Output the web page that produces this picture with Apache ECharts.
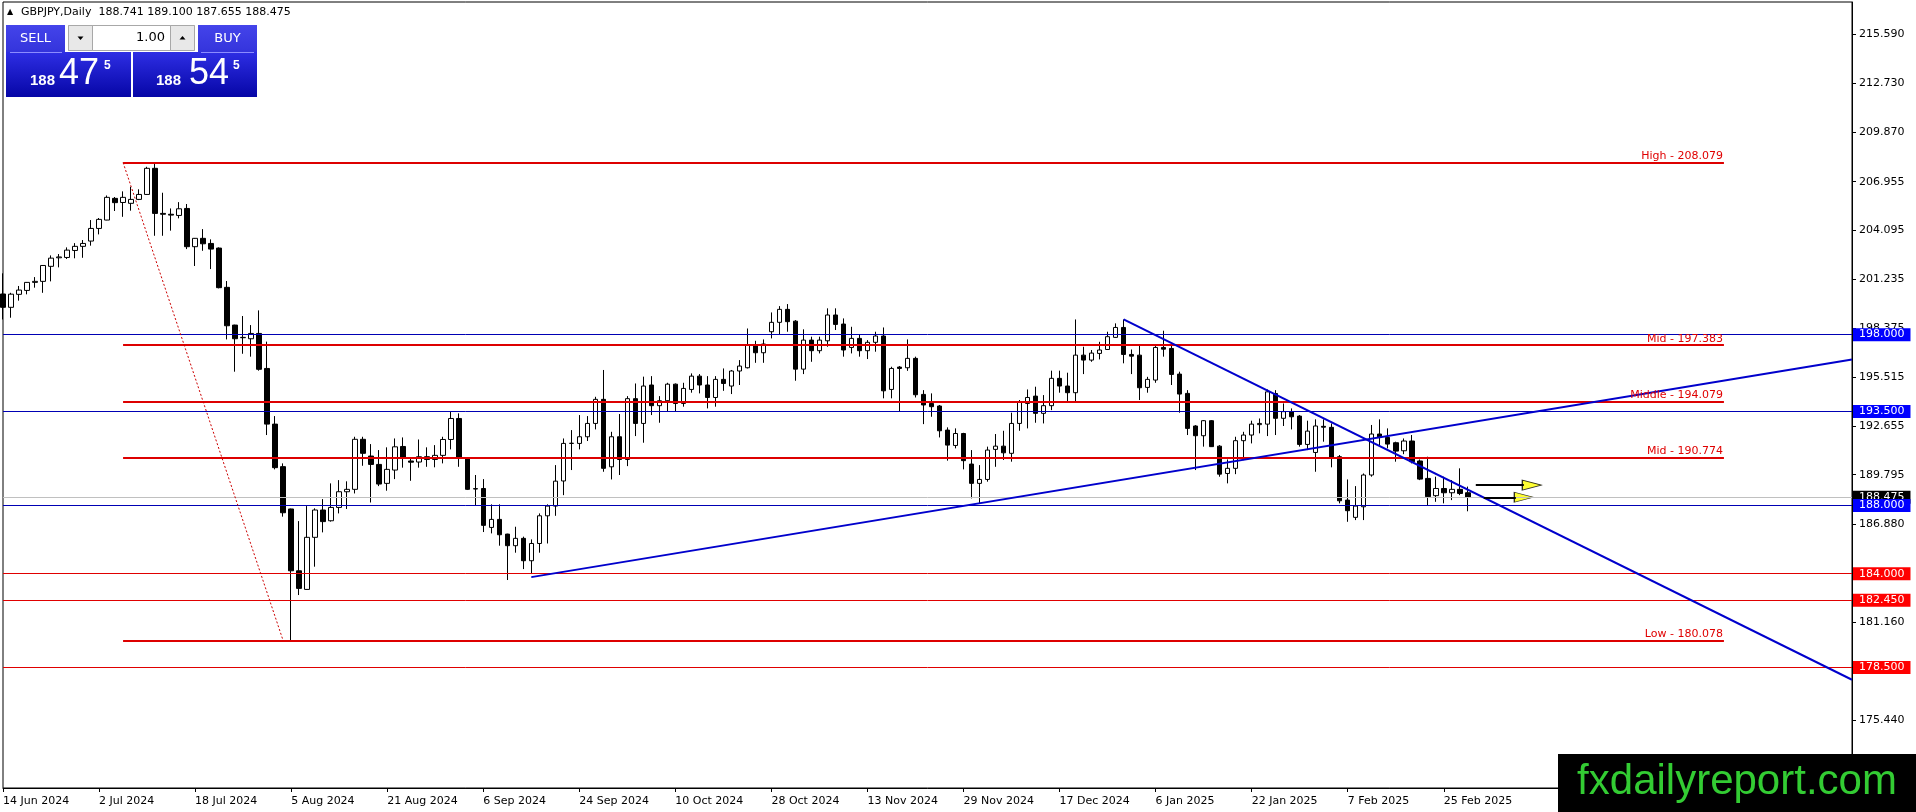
<!DOCTYPE html>
<html>
<head>
<meta charset="utf-8">
<title>GBPJPY, Daily</title>
<script src="https://cdn.jsdelivr.net/npm/echarts@6/dist/echarts.min.js"></script>
<style>
  html, body { margin: 0; padding: 0; background: #fff; }
  #chart { width: 1916px; height: 812px; }
</style>
</head>
<body>
<div id="chart"></div>
<script>
// daily bars, 14 Jun 2024 .. 28 Feb 2025 (weekdays, no 25 Dec / 1 Jan)
const startDate = '2024-06-14';
const holidays = ['2024-12-25', '2025-01-01'];
const futureSlots = 48;

const opens = [
  200.38, 199.60, 200.36, 200.59, 201.06, 201.12, 202.00, 202.50, 202.52, 202.93,
  203.17, 203.48, 204.22, 204.71, 205.98, 205.74, 205.69, 205.92, 206.21, 207.74,
  205.10, 205.05, 204.98, 205.39, 203.15, 203.64, 203.34, 203.07, 200.77, 198.56,
  197.82, 197.76, 198.07, 196.02, 192.76, 190.27, 187.79, 184.17, 183.08, 186.13,
  187.73, 187.10, 187.88, 188.80, 188.94, 191.87, 190.89, 190.40, 189.29, 190.07,
  191.45, 190.60, 190.54, 190.85, 190.69, 190.93, 191.86, 193.09, 190.75, 188.98,
  188.99, 186.71, 187.18, 186.32, 185.64, 186.07, 184.76, 185.77, 187.39, 187.96,
  189.43, 191.63, 191.63, 192.02, 192.80, 194.21, 190.26, 192.02, 190.69, 194.25,
  192.80, 195.05, 193.84, 194.13, 195.10, 193.97, 194.79, 195.57, 195.05, 194.32,
  195.38, 194.99, 195.87, 196.06, 197.39, 196.94, 198.17, 198.72, 199.48, 198.79,
  195.98, 197.68, 197.06, 197.64, 199.15, 198.62, 197.25, 197.78, 197.06, 197.55,
  197.92, 194.79, 196.10, 196.06, 196.61, 194.50, 193.97, 193.82, 192.41, 191.51,
  192.21, 190.42, 189.29, 189.52, 191.28, 191.47, 191.05, 192.80, 193.97, 194.40,
  193.39, 193.84, 195.44, 194.99, 194.60, 196.80, 196.51, 196.90, 197.13, 197.84,
  198.42, 196.84, 196.80, 194.91, 195.34, 197.25, 197.19, 195.69, 194.56, 192.65,
  192.08, 192.96, 191.47, 189.87, 190.17, 191.79, 192.12, 192.73, 192.76, 194.55,
  193.10, 193.49, 193.23, 191.57, 191.10, 192.63, 192.57, 190.85, 188.31, 187.30,
  187.92, 189.78, 192.18, 191.98, 191.67, 191.20, 191.77, 190.60, 189.58, 188.57,
  188.99, 188.74, 188.94, 188.741
];
const highs = [
  201.59, 200.45, 200.85, 201.08, 201.37, 202.07, 202.64, 202.72, 203.11, 203.36,
  203.54, 204.71, 204.83, 206.15, 206.06, 206.39, 206.66, 206.51, 207.83, 208.079,
  206.31, 205.39, 205.76, 205.65, 203.66, 204.18, 203.58, 203.11, 201.14, 198.58,
  199.09, 198.56, 199.42, 197.59, 193.23, 190.46, 187.81, 187.08, 187.96, 187.83,
  188.37, 189.29, 189.48, 189.41, 192.02, 192.02, 191.59, 191.24, 191.40, 191.92,
  191.98, 190.75, 191.86, 191.40, 191.53, 192.02, 193.48, 193.39, 190.77, 189.78,
  189.54, 188.06, 188.06, 186.34, 186.75, 186.17, 186.01, 187.53, 188.06, 190.36,
  191.92, 192.41, 193.29, 193.23, 194.36, 195.93, 192.31, 193.35, 194.40, 195.14,
  195.54, 195.57, 194.40, 195.18, 195.14, 195.18, 195.73, 195.69, 195.57, 195.57,
  196.02, 195.93, 196.51, 198.36, 197.64, 197.72, 199.30, 199.67, 199.79, 198.85,
  198.31, 197.88, 197.88, 199.54, 199.54, 198.95, 198.46, 198.03, 197.68, 198.17,
  198.42, 196.12, 196.16, 197.72, 196.71, 194.75, 194.56, 193.88, 192.57, 192.51,
  192.25, 191.24, 190.36, 191.44, 192.18, 192.37, 193.43, 194.17, 194.79, 194.95,
  194.46, 195.89, 195.89, 195.77, 198.89, 197.29, 197.10, 197.58, 198.17, 198.66,
  198.89, 197.13, 197.39, 195.53, 197.33, 198.23, 197.45, 195.83, 194.75, 192.70,
  193.00, 193.00, 191.53, 190.69, 192.02, 192.31, 192.96, 193.09, 194.79, 194.75,
  193.97, 193.68, 193.29, 192.96, 193.04, 193.04, 192.80, 190.95, 189.52, 189.13,
  189.87, 192.71, 193.04, 192.51, 191.73, 191.92, 192.12, 190.69, 190.85, 189.68,
  189.68, 189.48, 190.17, 189.100
];
const lows = [
  198.89, 198.99, 199.99, 200.36, 200.75, 200.45, 201.12, 201.94, 202.43, 202.47,
  202.50, 203.21, 203.87, 204.70, 205.24, 204.90, 205.26, 205.88, 206.19, 203.79,
  203.79, 204.09, 204.81, 203.01, 202.02, 202.91, 201.84, 200.71, 197.72, 195.83,
  196.88, 196.71, 195.89, 192.12, 190.11, 187.34, 180.078, 182.75, 183.06, 184.41,
  186.42, 187.05, 187.53, 187.79, 188.70, 190.32, 188.17, 189.13, 188.86, 189.54,
  190.21, 189.44, 190.21, 190.26, 190.23, 190.46, 191.28, 190.26, 188.90, 188.02,
  186.44, 186.36, 185.64, 183.63, 185.23, 184.27, 183.98, 185.23, 185.77, 187.39,
  188.60, 190.07, 191.28, 191.77, 192.45, 189.97, 189.52, 189.78, 190.30, 192.06,
  191.67, 193.29, 192.84, 193.49, 193.49, 193.78, 194.60, 194.56, 193.68, 193.78,
  194.71, 194.52, 195.05, 196.02, 196.35, 196.35, 197.78, 198.03, 198.17, 195.30,
  195.69, 196.41, 196.90, 197.29, 198.27, 196.71, 196.90, 196.71, 196.57, 197.00,
  194.27, 194.27, 193.52, 195.88, 194.32, 192.76, 193.19, 191.98, 190.62, 191.34,
  190.11, 188.41, 188.08, 189.39, 190.26, 190.66, 190.56, 192.37, 192.51, 192.84,
  192.80, 193.58, 194.60, 194.01, 194.01, 195.69, 196.41, 196.55, 197.10, 197.82,
  196.32, 195.69, 194.17, 194.60, 195.18, 196.71, 195.05, 193.43, 192.12, 190.07,
  191.44, 191.42, 189.68, 189.29, 189.83, 190.65, 191.63, 192.22, 192.06, 192.12,
  192.65, 192.45, 191.44, 191.24, 189.97, 191.73, 190.23, 188.12, 187.04, 187.14,
  187.14, 189.68, 191.44, 191.34, 190.56, 191.00, 190.46, 189.48, 188.02, 188.21,
  188.12, 188.31, 188.60, 187.655
];
const closes = [
  199.60, 200.37, 200.61, 201.06, 201.12, 202.05, 202.48, 202.55, 202.95, 203.17,
  203.34, 204.22, 204.75, 206.04, 205.73, 206.04, 205.92, 206.21, 207.74, 205.10,
  205.05, 205.00, 205.37, 203.15, 203.64, 203.32, 203.01, 200.75, 198.52, 197.76,
  197.84, 198.07, 195.97, 192.76, 190.21, 187.57, 184.17, 183.14, 186.13, 187.73,
  187.05, 187.88, 188.80, 188.94, 191.87, 191.05, 190.40, 189.25, 190.11, 191.43,
  190.75, 190.53, 190.85, 190.69, 190.93, 191.86, 193.09, 190.75, 188.94, 188.96,
  186.83, 187.18, 186.28, 185.64, 186.07, 184.76, 185.77, 187.39, 187.96, 189.42,
  191.63, 191.64, 192.02, 192.80, 194.21, 190.17, 192.02, 190.69, 194.25, 192.80,
  194.99, 193.84, 194.13, 195.10, 193.97, 194.85, 195.57, 195.05, 194.32, 195.38,
  195.14, 195.87, 196.16, 197.39, 196.94, 197.45, 198.72, 199.48, 198.76, 195.98,
  197.68, 197.06, 197.68, 199.15, 198.60, 197.10, 197.78, 197.06, 197.55, 197.92,
  194.71, 196.02, 196.02, 196.61, 194.48, 193.88, 193.78, 192.37, 191.53, 192.21,
  190.62, 189.29, 189.52, 191.24, 191.47, 191.08, 192.80, 194.03, 194.32, 193.39,
  193.84, 195.44, 194.99, 194.60, 196.80, 196.51, 196.92, 197.10, 197.88, 198.42,
  196.84, 196.74, 194.89, 195.38, 197.25, 197.15, 195.67, 194.52, 192.51, 192.08,
  192.96, 191.44, 189.83, 190.17, 191.79, 192.12, 192.76, 192.80, 194.65, 193.10,
  193.49, 193.19, 191.57, 192.35, 192.65, 192.58, 190.81, 188.27, 187.69, 187.96,
  189.78, 192.18, 191.98, 191.59, 191.18, 191.77, 190.56, 189.54, 188.51, 188.99,
  188.74, 188.94, 188.70, 188.475
];

// price scale
const priceTicks = [175.440, 178.300, 181.160, 184.020, 186.880, 189.795, 192.655,
  195.515, 198.375, 201.235, 204.095, 206.955, 209.870, 212.730, 215.590];
const priceLabels = [175.440, 181.160, 186.880, 189.795, 192.655,
  195.515, 198.375, 201.235, 204.095, 206.955, 209.870, 212.730, 215.590];

// drawn objects
const blueLevels = [198.000, 193.500, 188.000];
const redLevels = [184.000, 182.450, 178.500];
const lastPrice = 188.475;
const fibNames = ['High', 'Mid', 'Middle', 'Mid', 'Low'];
const fibValues = [208.079, 197.383, 194.079, 190.774, 180.078];
const fibSpan = [15, 215];
const fibDiagonal = [[15, 208.079], [35, 180.078]];
const risingLine = [[66, 183.80], [231, 196.55]];
const fallingLine = [[140, 198.89], [231, 177.79]];
const arrowLines = [[184, 190, 189.19], [185, 189, 188.475]];
const arrowHeads = [[191, 189.19], [190, 188.475]];

const monthNames = ['Jan', 'Feb', 'Mar', 'Apr', 'May', 'Jun', 'Jul', 'Aug', 'Sep', 'Oct', 'Nov', 'Dec'];
function tradingDays(start, count, skip) {
  const out = [];
  const d = new Date(start + 'T00:00:00Z');
  while (out.length < count) {
    const wd = d.getUTCDay();
    const iso = d.toISOString().slice(0, 10);
    if (wd !== 0 && wd !== 6 && !skip.includes(iso)) {
      out.push(d.getUTCDate() + ' ' + monthNames[d.getUTCMonth()] + ' ' + d.getUTCFullYear());
    }
    d.setUTCDate(d.getUTCDate() + 1);
  }
  return out;
}
const dates = tradingDays(startDate, closes.length, holidays);
const categories = dates.concat(Array.from({ length: futureSlots }, (_, i) => '_' + i));
const candles = closes.map((c, i) => [opens[i], c, lows[i], highs[i]]);

const FONT = '"DejaVu Sans", sans-serif';
const showTime = (idx) => idx < dates.length && idx % 12 === 0;

function priceBox(v, line, box) {
  return {
    yAxis: v,
    lineStyle: { color: line, width: 1, type: 'solid' },
    label: { show: true, position: 'end', formatter: v.toFixed(3), backgroundColor: box,
      color: '#fff', padding: [2, 6, 0, 6], distance: 1, fontSize: 11, fontFamily: FONT }
  };
}
const levelLines = [priceBox(lastPrice, '#c0c0c0', '#000')];
blueLevels.forEach((v) => levelLines.push(priceBox(v, '#0000b4', '#0000ff')));
redLevels.forEach((v) => levelLines.push(priceBox(v, '#e00000', '#ff0000')));

const objectLines = [];
fibValues.forEach((v, i) => objectLines.push([
  { coord: [fibSpan[0], v], lineStyle: { color: '#dd0000', width: 2, type: 'solid' },
    label: { show: true, position: 'insideEndTop', distance: 1, formatter: fibNames[i] + ' - ' + v.toFixed(3),
      color: '#e00000', fontSize: 11, fontFamily: FONT } },
  { coord: [fibSpan[1], v] }
]));
objectLines.push([
  { coord: fibDiagonal[0], lineStyle: { color: '#cc0000', width: 1, type: [2, 2] } },
  { coord: fibDiagonal[1] }
]);
[risingLine, fallingLine].forEach((ln) => objectLines.push([
  { coord: ln[0], lineStyle: { color: '#0000cc', width: 2, type: 'solid' } },
  { coord: ln[1] }
]));
arrowLines.forEach((a) => objectLines.push([
  { coord: [a[0], a[2]], lineStyle: { color: '#000', width: 2, type: 'solid' } },
  { coord: [a[1], a[2]] }
]));

const btnFill = new echarts.graphic.LinearGradient(0, 0, 0, 1, [
  { offset: 0, color: '#4444ea' }, { offset: 1, color: '#3434dc' }]);
const quoteFill = new echarts.graphic.LinearGradient(0, 0, 0, 1, [
  { offset: 0, color: '#2e2ee4' }, { offset: 1, color: '#0606a6' }]);

const panel = [
  { type: 'rect', shape: { x: 6, y: 52, width: 125, height: 45 }, style: { fill: quoteFill } },
  { type: 'rect', shape: { x: 133, y: 52, width: 124, height: 45 }, style: { fill: quoteFill } },
  { type: 'rect', shape: { x: 6, y: 25, width: 59, height: 27 }, style: { fill: btnFill } },
  { type: 'rect', shape: { x: 198, y: 25, width: 59, height: 27 }, style: { fill: btnFill } },
  { type: 'line', shape: { x1: 10, y1: 52.5, x2: 62, y2: 52.5 }, style: { stroke: '#8c8cff', lineWidth: 1 } },
  { type: 'line', shape: { x1: 201, y1: 52.5, x2: 254, y2: 52.5 }, style: { stroke: '#8c8cff', lineWidth: 1 } },
  { type: 'text', x: 35.5, y: 38.5, style: { text: 'SELL', fill: '#fff', font: '13px ' + FONT, align: 'center', verticalAlign: 'middle' } },
  { type: 'text', x: 227.5, y: 38.5, style: { text: 'BUY', fill: '#fff', font: '13px ' + FONT, align: 'center', verticalAlign: 'middle' } },
  { type: 'rect', shape: { x: 68.5, y: 25.5, width: 126, height: 25 }, style: { fill: '#fff', stroke: '#a8a8a8' } },
  { type: 'rect', shape: { x: 68.5, y: 25.5, width: 24, height: 25 }, style: { fill: '#e8e8e8', stroke: '#a8a8a8' } },
  { type: 'rect', shape: { x: 170.5, y: 25.5, width: 24, height: 25 }, style: { fill: '#e8e8e8', stroke: '#a8a8a8' } },
  { type: 'polygon', shape: { points: [[77.5, 36.5], [83.5, 36.5], [80.5, 40]] }, style: { fill: '#000' } },
  { type: 'polygon', shape: { points: [[179.5, 39.5], [185.5, 39.5], [182.5, 36]] }, style: { fill: '#000' } },
  { type: 'text', x: 165, y: 38, style: { text: '1.00', fill: '#000', font: '13px ' + FONT, align: 'right', verticalAlign: 'middle' } },
  { type: 'text', x: 30, y: 81, style: { text: '188', fill: '#fff', font: 'bold 15px "Liberation Sans"', verticalAlign: 'middle' } },
  { type: 'text', x: 59, y: 74, style: { text: '47', fill: '#fff', font: '36px "Liberation Sans"', verticalAlign: 'middle' } },
  { type: 'text', x: 104, y: 66, style: { text: '5', fill: '#fff', font: 'bold 12px "Liberation Sans"', verticalAlign: 'middle' } },
  { type: 'text', x: 156, y: 81, style: { text: '188', fill: '#fff', font: 'bold 15px "Liberation Sans"', verticalAlign: 'middle' } },
  { type: 'text', x: 189, y: 74, style: { text: '54', fill: '#fff', font: '36px "Liberation Sans"', verticalAlign: 'middle' } },
  { type: 'text', x: 233, y: 66, style: { text: '5', fill: '#fff', font: 'bold 12px "Liberation Sans"', verticalAlign: 'middle' } }
];

const header = [
  { type: 'text', x: 7, y: 12, style: { text: '▲', fill: '#000', font: '8px ' + FONT, verticalAlign: 'middle' } },
  { type: 'text', x: 21, y: 12, style: { text: 'GBPJPY,Daily  188.741 189.100 187.655 188.475',
    fill: '#000', font: '11px ' + FONT, verticalAlign: 'middle' } }
];

const watermark = [
  { type: 'rect', z: 100, shape: { x: 1558, y: 754, width: 358, height: 58 }, style: { fill: '#000' } },
  { type: 'text', z: 101, x: 1737, y: 782, style: { text: 'fxdailyreport.com', fill: '#33cc33',
    font: '42px "Liberation Sans"', align: 'center', verticalAlign: 'middle' } }
];

const chart = echarts.init(document.getElementById('chart'));
chart.setOption({
  animation: false,
  backgroundColor: '#fff',
  grid: { left: 3, right: 64, top: 2, bottom: 24, show: true, borderColor: '#000', borderWidth: 1,
    containLabel: false, outerBoundsMode: 'none' },
  xAxis: {
    type: 'category', data: categories, boundaryGap: false,
    axisLine: { lineStyle: { color: '#000', width: 1 } },
    axisTick: { show: true, length: 4, interval: showTime, lineStyle: { color: '#000' } },
    axisLabel: { interval: showTime, align: 'left', margin: 8, color: '#000', fontSize: 11, fontFamily: FONT },
    splitLine: { show: false }
  },
  yAxis: {
    type: 'value', position: 'right', min: 171.45, max: 217.48,
    axisLine: { show: true, lineStyle: { color: '#000', width: 1 } },
    axisTick: { show: true, length: 4, customValues: priceTicks, lineStyle: { color: '#000' } },
    axisLabel: { customValues: priceLabels, formatter: (v) => v.toFixed(3), margin: 7,
      color: '#000', fontSize: 11, fontFamily: FONT },
    splitLine: { show: false }
  },
  series: [
    {
      type: 'candlestick', name: 'GBPJPY', data: candles, barWidth: 5, z: 2,
      itemStyle: { color: '#fff', color0: '#000', borderColor: '#000', borderColor0: '#000', borderWidth: 1 }
    },
    {
      type: 'line', data: [], z: 3, silent: true,
      markLine: { silent: true, symbol: ['none', 'none'], animation: false, label: { show: false },
        emphasis: { disabled: true }, data: levelLines.concat(objectLines) }
    },
    {
      type: 'scatter', data: arrowHeads, z: 4, silent: true,
      symbol: 'triangle', symbolSize: [10, 19], symbolRotate: -90,
      itemStyle: { color: '#ffff00', borderColor: '#000', borderWidth: 1 }
    }
  ],
  graphic: header.concat(panel, watermark)
});
</script>
</body>
</html>
